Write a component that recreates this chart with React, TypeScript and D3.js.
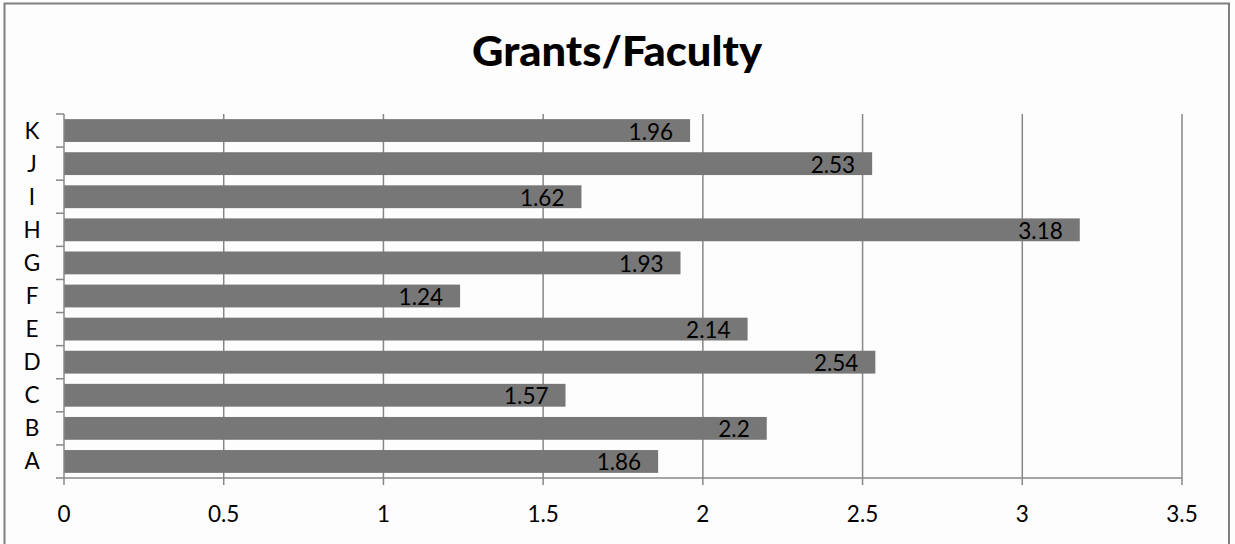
import React from "react";
import * as d3 from "d3";

const categories = ["A", "B", "C", "D", "E", "F", "G", "H", "I", "J", "K"];
const values = [1.86, 2.2, 1.57, 2.54, 2.14, 1.24, 1.93, 3.18, 1.62, 2.53, 1.96];
const xTicks = [0, 0.5, 1, 1.5, 2, 2.5, 3, 3.5];
const title = "Grants/Faculty";

const W = 1235;
const H = 544;
const FONT = "Lato, 'Open Sans', sans-serif";

export default function App() {
  const left = 64, right = 1182, top = 114, bottom = 478;
  const x = d3.scaleLinear().domain([0, 3.5]).range([left, right]);
  const y = d3
    .scaleBand<string>()
    .domain([...categories].reverse())
    .range([top, bottom])
    .paddingInner(0.31)
    .paddingOuter(0.155);
  const step = (bottom - top) / categories.length;
  const boundaries = d3.range(categories.length + 1).map((i) => top + i * step);

  return (
    <div style={{ position: "absolute", left: 0, top: 0 }}>
      <svg width={W} height={H} style={{ display: "block", background: "#fdfdfd" }}>
        <rect x={4.5} y={3.5} width={1224.5} height={560} fill="#fdfdfd" stroke="#7f7f7f" strokeWidth={2} />
        <text
          x={617}
          y={66}
          textAnchor="middle"
          fontFamily={FONT}
          fontWeight={900}
          fontSize={41}
          textLength={290}
          lengthAdjust="spacingAndGlyphs"
          fill="#000"
        >
          {title}
        </text>
        {xTicks.slice(1).map((t) => (
          <line key={"g" + t} x1={x(t)} x2={x(t)} y1={top} y2={bottom} stroke="#878787" strokeWidth={1.5} />
        ))}
        {categories.map((c, i) => {
          const yb = y(c)!;
          const xe = x(values[i]);
          return (
            <g key={c}>
              <rect x={left} y={yb} width={xe - left} height={y.bandwidth()} fill="#777777" />
              <text
                x={xe - 17}
                y={yb + y.bandwidth() / 2 + 9}
                textAnchor="end"
                fontFamily={FONT}
                fontSize={22.5}
                fill="#000"
              >
                {String(values[i])}
              </text>
              <text
                x={32}
                y={yb + y.bandwidth() / 2 + 8}
                textAnchor="middle"
                fontFamily={FONT}
                fontSize={22.5}
                fill="#000"
              >
                {c}
              </text>
            </g>
          );
        })}
        <line x1={left} x2={left} y1={top} y2={bottom} stroke="#878787" strokeWidth={1.5} />
        {boundaries.map((b, i) => (
          <line key={"yt" + i} x1={56} x2={left} y1={b} y2={b} stroke="#878787" strokeWidth={1.5} />
        ))}
        <line x1={left} x2={right} y1={bottom} y2={bottom} stroke="#878787" strokeWidth={1.5} />
        {xTicks.map((t) => (
          <g key={"xt" + t}>
            <line x1={x(t)} x2={x(t)} y1={bottom} y2={bottom + 7} stroke="#878787" strokeWidth={1.5} />
            <text x={x(t)} y={521.5} textAnchor="middle" fontFamily={FONT} fontSize={22.5} fill="#000">
              {String(t)}
            </text>
          </g>
        ))}
      </svg>
    </div>
  );
}
